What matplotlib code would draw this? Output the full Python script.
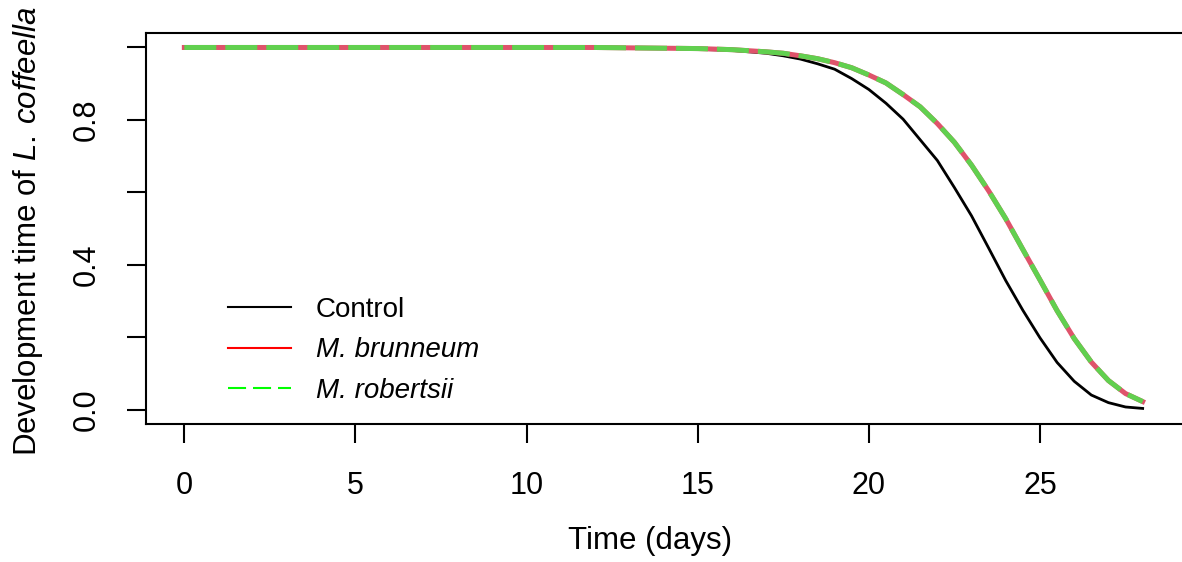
import numpy as np
import matplotlib
matplotlib.use("Agg")
import matplotlib.pyplot as plt
from matplotlib.lines import Line2D

plt.rcParams['font.family'] = ['Liberation Sans', 'DejaVu Sans']
plt.rcParams['mathtext.fontset'] = 'custom'
plt.rcParams['mathtext.rm'] = 'Liberation Sans'
plt.rcParams['mathtext.it'] = 'Liberation Sans:italic'
plt.rcParams['lines.scale_dashes'] = False

# days since start
days = [0, 1, 2, 3, 4, 5, 6, 7, 8, 9, 10, 11, 12, 13, 14, 15, 16,
        17, 17.5, 18, 18.5, 19, 19.5, 20, 20.5, 21, 21.5, 22, 22.5,
        23, 23.5, 24, 24.5, 25, 25.5, 26, 26.5, 27, 27.5, 28]

# proportion still developing
control = [1.0, 1.0, 1.0, 1.0, 1.0, 1.0, 1.0, 1.0, 1.0, 1.0, 1.0, 1.0, 0.9996, 0.999, 0.998, 0.995, 0.992,
           0.984, 0.977, 0.968, 0.955, 0.940, 0.914, 0.884, 0.846, 0.802, 0.745, 0.688, 0.613,
           0.535, 0.446, 0.356, 0.274, 0.198, 0.130, 0.078, 0.040, 0.019, 0.007, 0.003]
brunneum = [1.0, 1.0, 1.0, 1.0, 1.0, 1.0, 1.0, 1.0, 1.0, 1.0, 1.0, 1.0, 1.0, 0.999, 0.998, 0.997, 0.994,
            0.988, 0.984, 0.977, 0.969, 0.958, 0.944, 0.924, 0.902, 0.870, 0.836, 0.790, 0.738,
            0.675, 0.604, 0.527, 0.442, 0.358, 0.273, 0.196, 0.131, 0.080, 0.044, 0.022]
robertsii = [1.0, 1.0, 1.0, 1.0, 1.0, 1.0, 1.0, 1.0, 1.0, 1.0, 1.0, 1.0, 1.0, 0.999, 0.998, 0.997, 0.994,
             0.988, 0.984, 0.977, 0.969, 0.958, 0.944, 0.924, 0.902, 0.870, 0.836, 0.790, 0.738,
             0.675, 0.604, 0.527, 0.442, 0.358, 0.273, 0.196, 0.131, 0.080, 0.044, 0.022]

xticks = [0, 5, 10, 15, 20, 25]
yticks = [0.0, 0.2, 0.4, 0.6, 0.8, 1.0]
ytick_labels = ['0.0', '', '0.4', '', '0.8', '']
legend_labels = ['Control', 'M. brunneum', 'M. robertsii']

W, H = 1182, 562
fig = plt.figure(figsize=(W / 100, H / 100), dpi=100)
ax = fig.add_axes([146 / W, 1 - 424 / H, (1181 - 146) / W, (424 - 33) / H])

ax.plot(days, control, color='black', lw=2.0)
ax.plot(days, brunneum, color='#DF536B', lw=3.6)
ax.plot(days, robertsii, color='#61D04F', lw=3.6, linestyle=(0, (23, 6.5)))

ax.set_xlim(-1.12, 29.12)
ax.set_ylim(-0.04, 1.04)
ax.set_xticks(xticks)
ax.set_yticks(yticks)
ax.set_yticklabels(ytick_labels, rotation=90, va='center')
ax.tick_params(axis='both', length=14, width=1.5, labelsize=22, direction='out')
ax.tick_params(axis='x', pad=20)
ax.tick_params(axis='y', pad=18)
for s in ['top', 'bottom', 'left']:
    ax.spines[s].set_linewidth(1.5)
ax.spines['right'].set_visible(False)

fig.text(650 / W, 1 - 541 / H, 'Time (days)', ha='center', va='center', fontsize=22.5)
fig.text(28 / W, 1 - 231 / H, r'Development time of $\mathit{L.\:coffeella}$',
         ha='center', va='center', rotation=90, fontsize=22.5)

handles = [Line2D([], [], color='black', lw=1.5),
           Line2D([], [], color='#FF0000', lw=1.5),
           Line2D([], [], color='#00FF00', lw=1.5, linestyle=(0, (13, 5)))]
leg = ax.legend(handles, legend_labels, loc='upper left', frameon=False,
                bbox_to_anchor=(228 / W, 1 - 297 / H), bbox_transform=fig.transFigure,
                borderaxespad=0, borderpad=0, handlelength=2.25, handletextpad=0.9,
                labelspacing=0.52, fontsize=20)
for t in leg.get_texts()[1:]:
    t.set_fontstyle('italic')

fig.savefig('out.png', dpi=100)
